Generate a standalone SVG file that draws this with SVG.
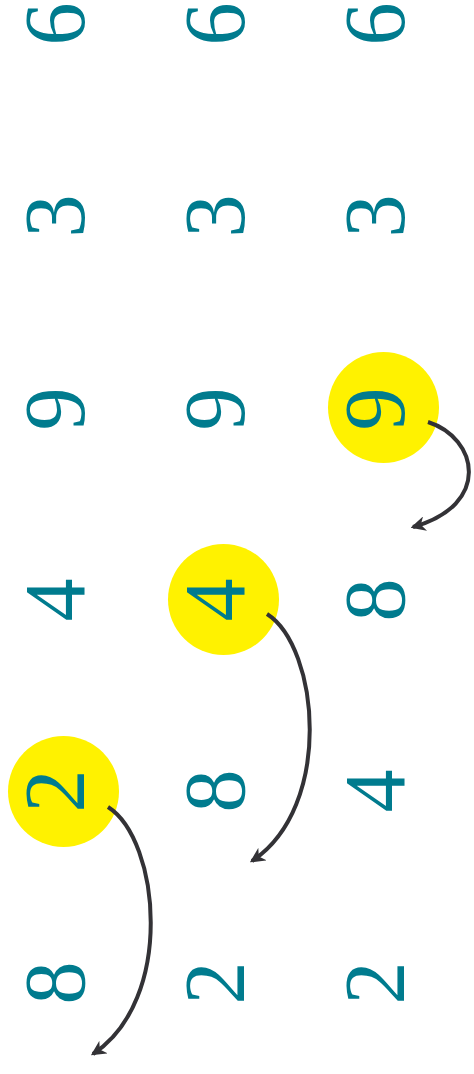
<svg xmlns="http://www.w3.org/2000/svg" width="474" height="1074" viewBox="0 0 474 1074">
<defs>
<style>
.d{font-family:"Liberation Serif","Times New Roman",serif;font-size:86px;fill:#007b8e;text-anchor:middle}
.hl{fill:#fff200}
.ar{fill:none;stroke:#333236;stroke-width:4;stroke-linecap:butt}
</style>
<marker id="ah" viewBox="0 0 12 12" refX="10" refY="6" markerWidth="15" markerHeight="15" markerUnits="userSpaceOnUse" orient="auto">
<path d="M0,0 L12,6 L0,12 L3.5,6 z" fill="#333236"/>
</marker>
</defs>
<rect width="474" height="1074" fill="#fff"/>
<g id="highlights">
<circle id="h1" class="hl" cx="63.5" cy="791.5" r="55.5"/>
<circle id="h2" class="hl" cx="223.5" cy="599.5" r="55.5"/>
<circle id="h3" class="hl" cx="383.5" cy="407.5" r="55.5"/>
</g>
<g id="col1">
<text class="d" transform="translate(84,24) rotate(-90)">6</text>
<text class="d" transform="translate(84,216) rotate(-90)">3</text>
<text class="d" transform="translate(84,409) rotate(-90)">9</text>
<text class="d" transform="translate(84,600) rotate(-90)">4</text>
<text class="d" transform="translate(84,791) rotate(-90)">2</text>
<text class="d" transform="translate(84,983) rotate(-90)">8</text>
</g>
<g id="col2">
<text class="d" transform="translate(244,24) rotate(-90)">6</text>
<text class="d" transform="translate(244,216) rotate(-90)">3</text>
<text class="d" transform="translate(244,409) rotate(-90)">9</text>
<text class="d" transform="translate(244,600) rotate(-90)">4</text>
<text class="d" transform="translate(244,791) rotate(-90)">8</text>
<text class="d" transform="translate(244,983) rotate(-90)">2</text>
</g>
<g id="col3">
<text class="d" transform="translate(404,24) rotate(-90)">6</text>
<text class="d" transform="translate(404,216) rotate(-90)">3</text>
<text class="d" transform="translate(404,409) rotate(-90)">9</text>
<text class="d" transform="translate(404,600) rotate(-90)">8</text>
<text class="d" transform="translate(404,791) rotate(-90)">4</text>
<text class="d" transform="translate(404,983) rotate(-90)">2</text>
</g>
<g id="connectors">
<path class="ar" marker-end="url(#ah)" d="M108,807 C160,840 175,1000 93,1054"/>
<path class="ar" marker-end="url(#ah)" d="M267,614 C319,647 334,807 252,861"/>
<path class="ar" marker-end="url(#ah)" d="M428,422 C478,438 492,505 413,527"/>
</g>
</svg>
